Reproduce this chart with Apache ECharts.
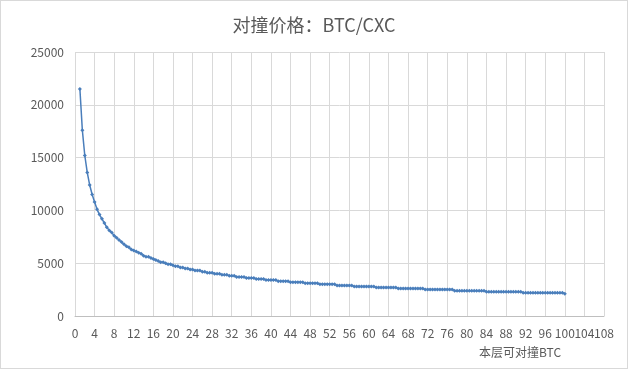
<!DOCTYPE html>
<html>
<head>
<meta charset="utf-8">
<script src="https://cdn.jsdelivr.net/npm/echarts@6/dist/echarts.min.js"></script>
<style>
html,body{margin:0;padding:0;background:#fff;}
#chart{width:628px;height:369px;box-sizing:border-box;border:1px solid #d9d9d9;}
</style>
</head>
<body>
<div id="chart"></div>
<script>
var titleText = '对撞价格：BTC/CXC';
var xAxisName = '本层可对撞BTC';
var xs = [
1,1.5,2,2.5,3,3.5,4,4.5,5,5.5,
6,6.5,7,7.5,8,8.5,9,9.5,10,10.5,
11,11.5,12,12.5,13,13.5,14,14.5,15,15.5,
16,16.5,17,17.5,18,18.5,19,19.5,20,20.5,
21,21.5,22,22.5,23,23.5,24,24.5,25,25.5,
26,26.5,27,27.5,28,28.5,29,29.5,30,30.5,
31,31.5,32,32.5,33,33.5,34,34.5,35,35.5,
36,36.5,37,37.5,38,38.5,39,39.5,40,40.5,
41,41.5,42,42.5,43,43.5,44,44.5,45,45.5,
46,46.5,47,47.5,48,48.5,49,49.5,50,50.5,
51,51.5,52,52.5,53,53.5,54,54.5,55,55.5,
56,56.5,57,57.5,58,58.5,59,59.5,60,60.5,
61,61.5,62,62.5,63,63.5,64,64.5,65,65.5,
66,66.5,67,67.5,68,68.5,69,69.5,70,70.5,
71,71.5,72,72.5,73,73.5,74,74.5,75,75.5,
76,76.5,77,77.5,78,78.5,79,79.5,80,80.5,
81,81.5,82,82.5,83,83.5,84,84.5,85,85.5,
86,86.5,87,87.5,88,88.5,89,89.5,90,90.5,
91,91.5,92,92.5,93,93.5,94,94.5,95,95.5,
96,96.5,97,97.5,98,98.5,99,99.5,100
];
var ys = [
21500,17600,15200,13600,12400,11500,10800,10100,9600,9200,
8800,8400,8100,7900,7600,7400,7200,7000,6800,6600,
6500,6300,6200,6100,6000,5900,5700,5600,5600,5500,
5400,5300,5200,5100,5100,5000,4900,4900,4800,4700,
4700,4600,4600,4500,4500,4400,4400,4300,4300,4300,
4200,4200,4100,4100,4100,4000,4000,4000,3900,3900,
3900,3800,3800,3800,3700,3700,3700,3700,3600,3600,
3600,3600,3500,3500,3500,3500,3400,3400,3400,3400,
3400,3300,3300,3300,3300,3300,3200,3200,3200,3200,
3200,3200,3100,3100,3100,3100,3100,3100,3000,3000,
3000,3000,3000,3000,3000,2900,2900,2900,2900,2900,
2900,2900,2800,2800,2800,2800,2800,2800,2800,2800,
2800,2700,2700,2700,2700,2700,2700,2700,2700,2700,
2600,2600,2600,2600,2600,2600,2600,2600,2600,2600,
2600,2500,2500,2500,2500,2500,2500,2500,2500,2500,
2500,2500,2500,2400,2400,2400,2400,2400,2400,2400,
2400,2400,2400,2400,2400,2400,2300,2300,2300,2300,
2300,2300,2300,2300,2300,2300,2300,2300,2300,2300,
2300,2200,2200,2200,2200,2200,2200,2200,2200,2200,
2200,2200,2200,2200,2200,2200,2200,2200,2100
];
var xMin = 0, xMax = 108, xStep = 4;
var yMin = 0, yMax = 25000, yStep = 5000;

var pts = xs.map(function(x, i){ return [x, ys[i]]; });
var font = '"Noto Sans CJK SC", "Microsoft YaHei", sans-serif';
var labelBase = {color: '#595959', fontSize: 12, margin: 11, fontFamily: font,
  showMaxLabel: true, showMinLabel: true, hideOverlap: false};
var chart = echarts.init(document.getElementById('chart'), null, {renderer:'canvas'});
chart.setOption({
  animation: false,
  backgroundColor: '#ffffff',
  title: {
    text: titleText, left: 'center', top: 10,
    textStyle: {fontSize: 18, fontWeight: 'normal', color: '#595959', fontFamily: font}
  },
  grid: {left: 74, right: 23, top: 51, bottom: 52},
  xAxis: [{
    type: 'value', min: xMin, max: xMax, interval: xStep, position: 'bottom',
    axisLine: {show: true, lineStyle: {color: '#bfbfbf', width: 1}},
    axisTick: {show: false},
    axisLabel: Object.assign({}, labelBase, {
      formatter: function(v){ return v === xMax ? '' : String(v); }
    }),
    splitLine: {show: true, lineStyle: {color: '#d9d9d9', width: 1}}
  }, {
    type: 'value', min: xMin, max: xMax, interval: xStep, position: 'bottom',
    axisLine: {show: false},
    axisTick: {show: false},
    axisLabel: Object.assign({}, labelBase, {
      formatter: function(v){ return v === xMax ? String(v) : ''; }
    }),
    splitLine: {show: false}
  }],
  yAxis: {
    type: 'value', min: yMin, max: yMax, interval: yStep,
    axisLine: {show: false},
    axisTick: {show: false},
    axisLabel: {color: '#595959', fontSize: 12, margin: 11, fontFamily: font,
      formatter: function(v){ return String(v); }},
    splitLine: {show: true, lineStyle: {color: '#d9d9d9', width: 1}}
  },
  graphic: [{
    type: 'text', left: 478, top: 345,
    style: {text: xAxisName, fill: '#595959', font: '12px ' + font}
  }],
  series: [{
    type: 'line',
    xAxisIndex: 0,
    data: pts,
    symbol: 'diamond', symbolSize: 4,
    showAllSymbol: true,
    lineStyle: {color: '#4A7EBB', width: 1.5},
    itemStyle: {color: '#4A7EBB'}
  }]
});
</script>
</body>
</html>
